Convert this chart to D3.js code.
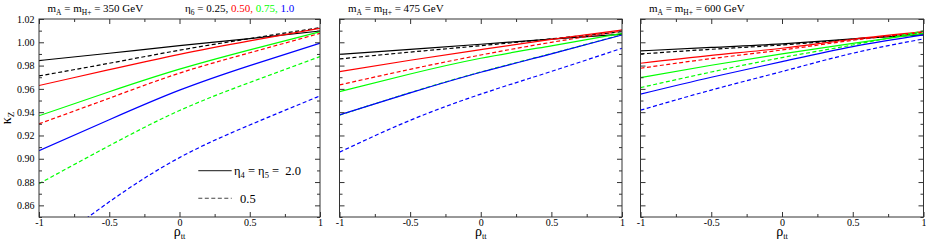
<!DOCTYPE html>
<html><head><meta charset="utf-8">
<script src="https://cdn.jsdelivr.net/npm/d3@7"></script>
<style>
body{margin:0;background:#fff}
svg{display:block}
text{font-family:"Liberation Serif","Times New Roman",serif;fill:#000}
</style>
</head><body>
<svg id="c" width="926" height="244"></svg>
<script>
// ---------------- data ----------------
const rho = [-1, -0.5, 0, 0.5, 1];
const masses = [350, 475, 600];
const seriesColor = ["#000000","#000000","#ff0000","#ff0000","#00ff00","#00ff00","#0000ff","#0000ff"];
const seriesDashed = [false,true,false,true,false,true,false,true];
// rows: black solid, black dashed, red solid, red dashed, green solid, green dashed, blue solid, blue dashed
const kz350 = [
  [0.9843, 0.9906, 0.9971, 1.0032, 1.0097],
  [0.9711, 0.9820, 0.9932, 1.0032, 1.0126],
  [0.9629, 0.9765, 0.9897, 1.0012, 1.0120],
  [0.9300, 0.9520, 0.9735, 0.9910, 1.0077],
  [0.9369, 0.9575, 0.9769, 0.9935, 1.0091],
  [0.8786, 0.9112, 0.9414, 0.9655, 0.9877],
  [0.9069, 0.9335, 0.9589, 0.9800, 0.9992],
  [0.8180, 0.8630, 0.9010, 0.9290, 0.9540]
];
const kz475 = [
  [0.9897, 0.9940, 0.9983, 1.0028, 1.0069],
  [0.9857, 0.9916, 0.9971, 1.0030, 1.0091],
  [0.9748, 0.9846, 0.9937, 1.0025, 1.0106],
  [0.9634, 0.9768, 0.9891, 1.0000, 1.0097],
  [0.9577, 0.9728, 0.9863, 0.9970, 1.0077],
  [0.9374, 0.9568, 0.9745, 0.9903, 1.0066],
  [0.9377, 0.9566, 0.9743, 0.9900, 1.0063],
  [0.9057, 0.9330, 0.9555, 0.9750, 0.9949]
];
const kz600 = [
  [0.9926, 0.9956, 0.9986, 1.0029, 1.0063],
  [0.9900, 0.9940, 0.9977, 1.0026, 1.0077],
  [0.9820, 0.9888, 0.9949, 1.0026, 1.0091],
  [0.9777, 0.9860, 0.9934, 1.0017, 1.0086],
  [0.9697, 0.9803, 0.9900, 0.9990, 1.0077],
  [0.9611, 0.9745, 0.9869, 0.9977, 1.0097],
  [0.9555, 0.9700, 0.9834, 0.9963, 1.0063],
  [0.9417, 0.9590, 0.9749, 0.9906, 1.0029]
];
const kzData = [kz350, kz475, kz600];
const xTicks = [-1, -0.5, 0, 0.5, 1];
const xTickLabels = ["-1", "-0.5", "0", "0.5", "1"];
const xMinor = [-0.75, -0.25, 0.25, 0.75];
const yTicks = [0.86, 0.88, 0.90, 0.92, 0.94, 0.96, 0.98, 1.00, 1.02];
const yTickLabels = ["0.86","0.88","0.90","0.92","0.94","0.96","0.98","1.00","1.02"];
const yMinor = [0.85, 0.87, 0.89, 0.91, 0.93, 0.95, 0.97, 0.99, 1.01];
const eta6Values = ["0.25,", "0.50,", "0.75,", "1.0"];
const eta6Colors = ["#000000", "#ff0000", "#00ff00", "#0000ff"];
const legendLabels = ["2.0", "0.5"];

// ---------------- layout ----------------
const svg = d3.select("#c");
const panelLeft = [39, 339.5, 640.5];
const panelWidth = [281, 282.5, 283];
const plotTop = 19, plotBottom = 217;

const y = d3.scaleLinear().domain([0.85, 1.02]).range([plotBottom, plotTop]);

panelLeft.forEach((L, p) => {
  const W = panelWidth[p];
  const x = d3.scaleLinear().domain([-1, 1]).range([L, L + W]);
  const g = svg.append("g");

  const clipId = "clip" + p;
  svg.append("clipPath").attr("id", clipId).append("rect")
    .attr("x", L).attr("y", plotTop).attr("width", W).attr("height", plotBottom - plotTop);

  const line = d3.line().x((d, i) => x(rho[i])).y(d => y(d)).curve(d3.curveNatural);
  const lg = g.append("g").attr("clip-path", `url(#${clipId})`);
  kzData[p].forEach((vals, s) => {
    lg.append("path").attr("d", line(vals))
      .attr("fill", "none").attr("stroke", seriesColor[s])
      .attr("stroke-width", 1.2)
      .attr("stroke-dasharray", seriesDashed[s] ? "4,2.5" : null);
  });

  const mk = (gen, tx, ty) => {
    const a = g.append("g").attr("transform", `translate(${tx},${ty})`).call(gen);
    a.select(".domain").remove();
    a.selectAll("line").attr("stroke", "#333");
    a.selectAll("text").attr("font-family", '"Liberation Serif", serif').attr("font-size", 10).attr("fill", "#000");
    return a;
  };
  mk(d3.axisBottom(x).tickValues(xTicks).tickSize(-5).tickPadding(2)
      .tickFormat((d, i) => xTickLabels[i]), 0, plotBottom);
  mk(d3.axisBottom(x).tickValues(xMinor).tickSize(-3).tickFormat(""), 0, plotBottom);
  mk(d3.axisTop(x).tickValues(xTicks).tickSize(-5).tickFormat(""), 0, plotTop);
  mk(d3.axisTop(x).tickValues(xMinor).tickSize(-3).tickFormat(""), 0, plotTop);
  mk(d3.axisLeft(y).tickValues(yTicks).tickSize(-5).tickPadding(4.5)
      .tickFormat((d, i) => p === 0 ? yTickLabels[i] : ""), L, 0);
  mk(d3.axisLeft(y).tickValues(yMinor).tickSize(-3).tickFormat(""), L, 0);
  mk(d3.axisRight(y).tickValues(yTicks).tickSize(-5).tickFormat(""), L + W, 0);
  mk(d3.axisRight(y).tickValues(yMinor).tickSize(-3).tickFormat(""), L + W, 0);

  g.append("rect").attr("x", L).attr("y", plotTop).attr("width", W).attr("height", plotBottom - plotTop)
    .attr("fill", "none").attr("stroke", "#333").attr("stroke-width", 1);

  const t = g.append("text").attr("x", L + 8.5).attr("y", 11.7).attr("font-size", 11);
  t.append("tspan").text("m");
  t.append("tspan").attr("font-size", 7.5).attr("dy", 3.3).text("A");
  t.append("tspan").attr("dy", -3.3).text(" = m");
  t.append("tspan").attr("font-size", 7.5).attr("dy", 3.3).text("H+");
  t.append("tspan").attr("dy", -3.3).text(` = ${masses[p]} GeV`);

  const xl = g.append("text").attr("x", x(0)).attr("y", 236).attr("text-anchor", "middle").attr("font-size", 14);
  xl.append("tspan").text("ρ");
  xl.append("tspan").attr("font-size", 8.5).attr("dy", 3).text("tt");
});

{
  const t = svg.append("text").attr("x", 185).attr("y", 11.7).attr("font-size", 11);
  t.append("tspan").text("η");
  t.append("tspan").attr("font-size", 7.5).attr("dy", 3.3).text("6");
  t.append("tspan").attr("dy", -3.3).text(" = ");
  eta6Values.forEach((v, i) => {
    t.append("tspan").attr("fill", eta6Colors[i]).text(v + (i < eta6Values.length - 1 ? " " : ""));
  });
}

{
  const yl = svg.append("text").attr("transform", "translate(11,118) rotate(-90)")
    .attr("text-anchor", "middle").attr("font-size", 14);
  yl.append("tspan").text("κ");
  yl.append("tspan").attr("font-size", 9).attr("dy", 3).text("Z");
}

{
  const lx0 = 198.3, lx1 = 231.7, ys = [170.7, 198.3];
  svg.append("line").attr("x1", lx0).attr("x2", lx1).attr("y1", ys[0]).attr("y2", ys[0])
    .attr("stroke", "#444").attr("stroke-width", 1.3);
  svg.append("line").attr("x1", lx0).attr("x2", lx1).attr("y1", ys[1]).attr("y2", ys[1])
    .attr("stroke", "#444").attr("stroke-width", 1.1).attr("stroke-dasharray", "4,2.5");
  const t1 = svg.append("text").attr("x", 234).attr("y", 175).attr("font-size", 12.5)
    .attr("xml:space", "preserve");
  t1.append("tspan").text("η");
  t1.append("tspan").attr("font-size", 8.5).attr("dy", 3).text("4");
  t1.append("tspan").attr("dy", -3).text(" = η");
  t1.append("tspan").attr("font-size", 8.5).attr("dy", 3).text("5");
  t1.append("tspan").attr("dy", -3).text(" =  " + legendLabels[0]);
  svg.append("text").attr("x", 240).attr("y", 202.5).attr("font-size", 12.5).text(legendLabels[1]);
}
</script>
</body></html>
